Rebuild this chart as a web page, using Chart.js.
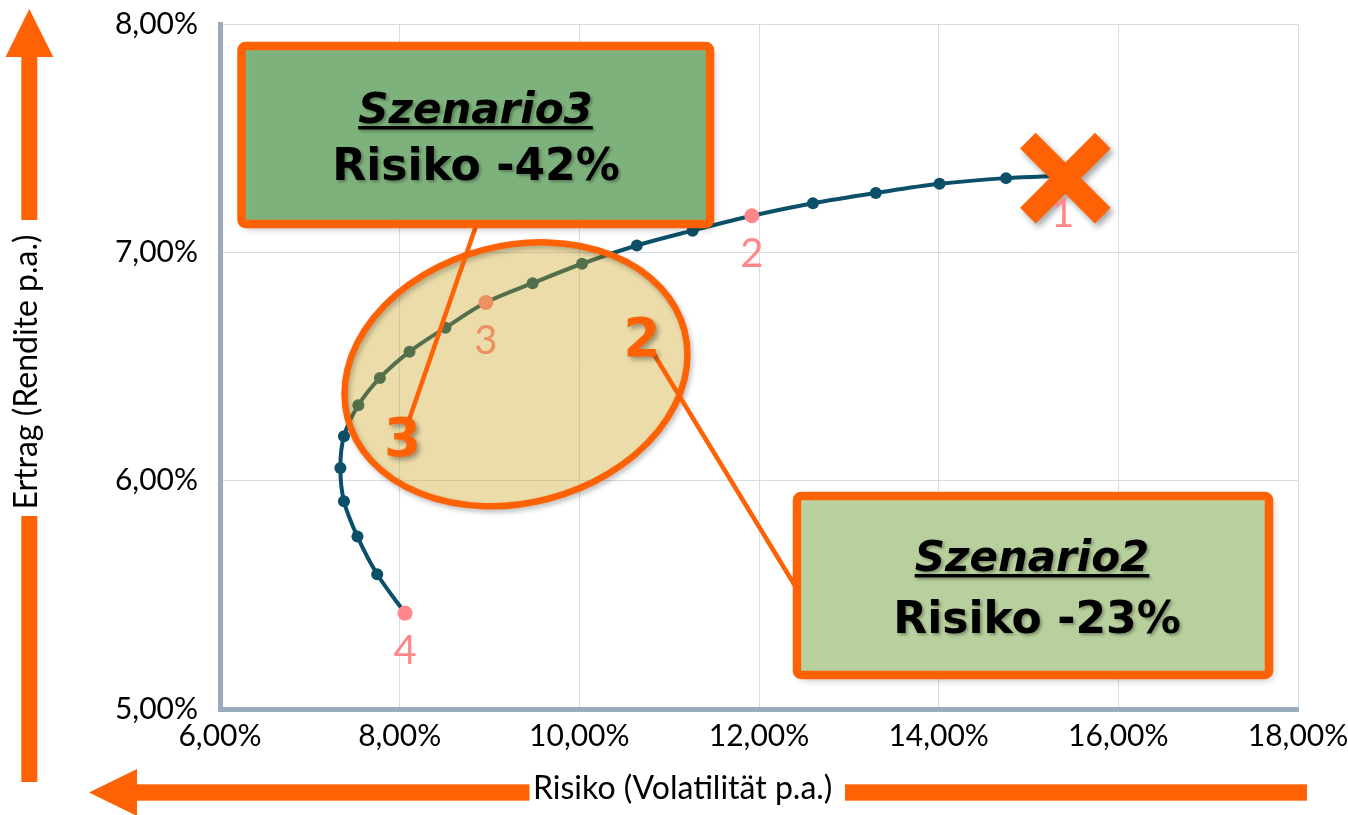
<!DOCTYPE html>
<html><head><meta charset="utf-8">
<script src="https://cdn.jsdelivr.net/npm/chart.js@4.4.1/dist/chart.umd.min.js"></script>
<style>html,body{margin:0;padding:0;background:#fff;}canvas{display:block;}</style>
</head><body>
<canvas id="c" width="1348" height="815"></canvas>
<script>
// ---- data ----
const risk = [8.06, 7.75, 7.53, 7.38, 7.34, 7.38, 7.54, 7.78, 8.11, 8.51, 8.96, 9.48, 10.03, 10.64, 11.26, 11.92, 12.60, 13.30, 14.01, 14.75, 15.38];
const ret  = [5.42, 5.59, 5.755, 5.91, 6.055, 6.195, 6.33, 6.45, 6.565, 6.67, 6.78, 6.865, 6.95, 7.03, 7.095, 7.16, 7.215, 7.26, 7.30, 7.325, 7.335];
const pointNames = ['4','','','','','','','','','','3','','','','','2','','','','','1'];
const crossRisk = [15.41];
const crossRet = [7.325];
const xTicks = [6, 8, 10, 12, 14, 16, 18];
const yTicks = [5, 6, 7, 8];
const xTitle = 'Risiko (Volatilität p.a.)';
const yTitle = 'Ertrag (Rendite p.a.)';
const callout3 = ['Szenario3', 'Risiko -42%'];
const callout2 = ['Szenario2', 'Risiko -23%'];
const bigNumbers = ['2', '3'];

const ORANGE = '#ff6105';
const TEAL = '#0b5068';
const PINK = '#ff878b';
const fmt = v => v.toFixed(2).replace('.', ',') + '%';

const curve = risk.map((x, i) => ({x, y: ret[i]}));
const cross = crossRisk.map((x, i) => ({x, y: crossRet[i]}));

function shadow(ctx, c, b, ox, oy) {
  ctx.shadowColor = c; ctx.shadowBlur = b; ctx.shadowOffsetX = ox; ctx.shadowOffsetY = oy;
}
function noShadow(ctx) { ctx.shadowColor = 'rgba(0,0,0,0)'; ctx.shadowBlur = 0; ctx.shadowOffsetX = 0; ctx.shadowOffsetY = 0; }

function drawBox(ctx, b, lines) {
  ctx.save();
  shadow(ctx, 'rgba(0,0,0,0.35)', 8, 3, 4);
  ctx.beginPath(); ctx.roundRect(b.x, b.y, b.w, b.h, 4);
  ctx.fillStyle = b.fill; ctx.fill();
  noShadow(ctx);
  ctx.lineWidth = 8.5; ctx.strokeStyle = ORANGE; ctx.lineJoin = 'round';
  ctx.stroke();
  ctx.fillStyle = '#000';
  ctx.textAlign = 'center'; ctx.textBaseline = 'alphabetic';
  shadow(ctx, 'rgba(0,0,0,0.3)', 3, 2, 2);
  ctx.font = 'italic bold 42px "DejaVu Sans"';
  ctx.fillText(lines[0], b.cx1, b.base1);
  const w = ctx.measureText(lines[0]).width;
  ctx.fillRect(b.cx1 - w / 2, b.base1 + 3, w, 3.5);
  ctx.font = 'bold 44px "DejaVu Sans"';
  ctx.fillText(lines[1], b.cx2, b.base2);
  ctx.restore();
}

const zeroPad = s => { s.paddingTop = 0; s.paddingBottom = 0; s.paddingLeft = 0; s.paddingRight = 0; };

const decor = {
  id: 'decor',
  beforeDatasetDraw(chart, args) {
    if (args.meta.label === 'cross') {
      chart.ctx.save();
      shadow(chart.ctx, 'rgba(0,0,0,0.35)', 6, 3, 4);
    }
  },
  afterDatasetDraw(chart, args) {
    if (args.meta.label === 'cross') chart.ctx.restore();
  },
  afterDraw(chart) {
    const ctx = chart.ctx;
    const meta = chart.getDatasetMeta(1);
    ctx.save();
    ctx.font = '40px Lato';
    ctx.fillStyle = PINK; ctx.textAlign = 'center'; ctx.textBaseline = 'alphabetic';
    meta.data.forEach((p, i) => {
      if (pointNames[i]) ctx.fillText(pointNames[i], p.x, p.y + 51);
    });
    ctx.restore();

    // ellipse
    ctx.save();
    ctx.beginPath();
    ctx.ellipse(516, 374.3, 174, 128.6, -14.6 * Math.PI / 180, 0, Math.PI * 2);
    ctx.fillStyle = 'rgba(202,162,30,0.38)';
    ctx.fill();
    shadow(ctx, 'rgba(0,0,0,0.25)', 5, 2, 3);
    ctx.lineWidth = 6.5; ctx.strokeStyle = ORANGE; ctx.stroke();
    ctx.restore();

    // leader lines
    ctx.save();
    ctx.strokeStyle = ORANGE; ctx.lineWidth = 4.5;
    ctx.beginPath(); ctx.moveTo(476, 226); ctx.lineTo(409, 420); ctx.stroke();
    ctx.beginPath(); ctx.moveTo(652, 351); ctx.lineTo(797, 589); ctx.stroke();
    ctx.restore();

    // callout boxes
    drawBox(ctx, {x: 241.5, y: 46, w: 468.5, h: 178, fill: 'rgba(121,178,119,0.92)',
      cx1: 475.5, base1: 123, cx2: 476, base2: 180}, callout3);
    drawBox(ctx, {x: 797, y: 496, w: 472, h: 179, fill: 'rgba(185,210,155,0.92)',
      cx1: 1032, base1: 571, cx2: 1037, base2: 633}, callout2);

    // big numbers
    ctx.save();
    ctx.font = 'bold 53px "DejaVu Sans"';
    ctx.fillStyle = ORANGE; ctx.textAlign = 'center'; ctx.textBaseline = 'alphabetic';
    shadow(ctx, 'rgba(0,0,0,0.35)', 5, 3, 3);
    ctx.fillText(bigNumbers[0], 642, 356);
    ctx.fillText(bigNumbers[1], 402.5, 456);
    ctx.restore();

    // axis arrows + titles
    ctx.save();
    ctx.fillStyle = ORANGE;
    ctx.beginPath(); ctx.moveTo(29.3, 9); ctx.lineTo(53.3, 57); ctx.lineTo(5.5, 57); ctx.closePath(); ctx.fill();
    ctx.fillRect(21.3, 56, 16, 164);
    ctx.fillRect(21.3, 516, 16, 266);
    ctx.beginPath(); ctx.moveTo(89, 792.5); ctx.lineTo(137, 769); ctx.lineTo(137, 816); ctx.closePath(); ctx.fill();
    ctx.fillRect(136, 784.3, 393.5, 16.4);
    ctx.fillRect(845, 784.3, 462, 16.4);
    ctx.fillStyle = '#000';
    ctx.font = '32px Lato';
    ctx.textAlign = 'left'; ctx.textBaseline = 'alphabetic';
    ctx.fillText(xTitle, 533, 799);
    ctx.translate(36.5, 372);
    ctx.rotate(-Math.PI / 2);
    ctx.textAlign = 'center';
    ctx.fillText(yTitle, 0, 0);
    ctx.restore();
  }
};

new Chart(document.getElementById('c'), {
  type: 'scatter',
  data: {
    datasets: [
      {
        label: 'cross', data: cross, order: 0,
        pointStyle: 'crossRot', pointRadius: 53, pointHoverRadius: 53,
        pointBorderWidth: 22, pointHoverBorderWidth: 22,
        borderColor: ORANGE, backgroundColor: ORANGE, showLine: false, clip: false
      },
      {
        label: 'frontier', data: curve, order: 1, showLine: true,
        borderColor: TEAL, borderWidth: 4, tension: 0.35,
        pointRadius: ctx => pointNames[ctx.dataIndex] ? 7.5 : 6,
        pointBackgroundColor: ctx => pointNames[ctx.dataIndex] ? PINK : TEAL,
        pointBorderWidth: 0, clip: false
      }
    ]
  },
  options: {
    responsive: false, animation: false, devicePixelRatio: 1,
    layout: {autoPadding: false, padding: {top: 24, right: 50, left: 0, bottom: 0}},
    plugins: {legend: {display: false}, tooltip: {enabled: false}},
    events: [],
    scales: {
      x: {
        type: 'linear', min: 6, max: 18,
        afterBuildTicks: s => { s.ticks = xTicks.map(v => ({value: v})); },
        afterFit: s => { s.height = 106; zeroPad(s); },
        ticks: {callback: v => fmt(v), color: '#000', font: {family: 'Lato', size: 30}, padding: 9, maxRotation: 0},
        grid: {color: '#d7dde7', lineWidth: 1, drawTicks: false},
        border: {color: '#9aabbb', width: 5}
      },
      y: {
        type: 'linear', min: 5, max: 8,
        afterBuildTicks: s => { s.ticks = yTicks.map(v => ({value: v})); },
        afterFit: s => { s.width = 220; zeroPad(s); },
        ticks: {callback: v => fmt(v), color: '#000', font: {family: 'Lato', size: 30}, padding: 22},
        grid: {color: '#d7dde7', lineWidth: 1, drawTicks: false},
        border: {color: '#9aabbb', width: 5}
      }
    }
  },
  plugins: [decor]
});
</script>
</body></html>
